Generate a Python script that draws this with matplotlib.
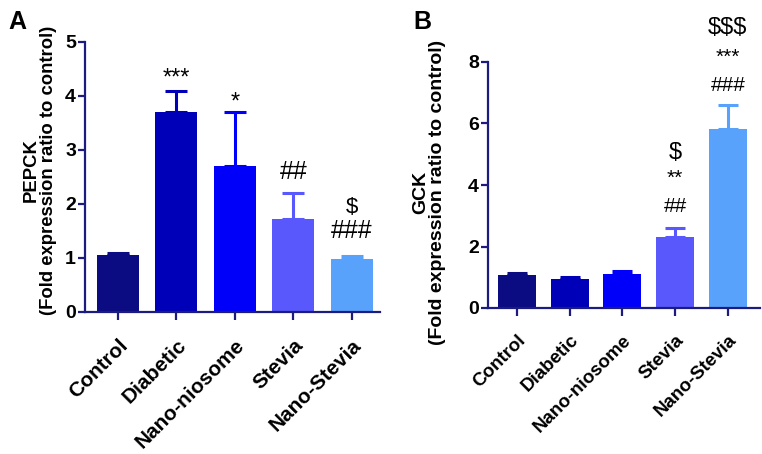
import matplotlib
matplotlib.use("Agg")
import matplotlib.pyplot as plt
import matplotlib.transforms as mtransforms
import numpy as np

plt.rcParams["font.family"] = ["Liberation Sans", "DejaVu Sans"]

# Data
GROUPS = ["Control", "Diabetic", "Nano-niosome", "Stevia", "Nano-Stevia"]

PEPCK_MEAN = [1.05, 3.70, 2.70, 1.72, 0.98]
PEPCK_TOP = [1.10, 4.10, 3.70, 2.20, 1.03]
PEPCK_MARKS = [[], ["***"], ["*"], ["##"], ["###", "$"]]

GCK_MEAN = [1.08, 0.93, 1.12, 2.32, 5.82]
GCK_TOP = [1.13, 1.01, 1.20, 2.60, 6.60]
GCK_MARKS = [[], [], [], ["##", "**", "$"], ["###", "***", "$$$"]]

# Theme
COLORS = ["#0c0c82", "#0000b8", "#0000fa", "#5858fc", "#58a2fc"]
AXIS = "#1c1c80"

W, H = 762, 454
fig = plt.figure(figsize=(W / 100, H / 100), dpi=100)


def box(l, t, r, b):
    return [l / W, 1 - b / H, (r - l) / W, (b - t) / H]


def panel(ax, mean, top, ylim, yticks, xlim, xfs, ylab, lfs, capsize):
    x = np.arange(len(GROUPS))
    err = np.array(top) - np.array(mean)
    ax.bar(x, mean, width=0.72, color=COLORS, zorder=2)
    for i in x:
        ax.errorbar(i, mean[i], yerr=[[0], [err[i]]], color=COLORS[i],
                    elinewidth=2.2, capsize=capsize, capthick=2.2, zorder=1)
    ax.set_xlim(*xlim)
    ax.set_ylim(*ylim)
    ax.set_yticks(yticks)
    ax.set_xticks(x)
    ax.set_xticklabels(GROUPS, rotation=45, ha="right", rotation_mode="anchor",
                       fontsize=xfs, fontweight="bold")
    # nudge the rotated labels a little to the left
    shift = mtransforms.ScaledTranslation(-4 / 100, 0, fig.dpi_scale_trans)
    for lab in ax.get_xticklabels():
        lab.set_transform(lab.get_transform() + shift)
    for lab in ax.get_yticklabels():
        lab.set_fontsize(14)
        lab.set_fontweight("bold")
    for s in ["top", "right"]:
        ax.spines[s].set_visible(False)
    for s in ["left", "bottom"]:
        ax.spines[s].set_color(AXIS)
        ax.spines[s].set_linewidth(1.6)
    ax.tick_params(axis="y", colors=AXIS, width=1.6, length=5, pad=1.5,
                   labelcolor="black")
    ax.tick_params(axis="x", colors=AXIS, width=1.6, length=6, pad=11,
                   labelcolor="black")
    ax.set_ylabel(ylab, fontsize=lfs, fontweight="bold", linespacing=1.0)


# ── Panel A ──
axA = fig.add_axes(box(85, 42, 380, 312))
panel(axA, PEPCK_MEAN, PEPCK_TOP, (0, 5), [0, 1, 2, 3, 4, 5], (-0.56, 4.48),
      15, "PEPCK\n(Fold expression ratio to control)", 13.3, 8)
axA.yaxis.set_label_coords(-0.095, 0.525)

# marks above the bars (A)
a_pos = {"***": 4.33, "*": 3.88, "##": 2.6, "###": 1.5, "$": 1.93}
for i, marks in enumerate(PEPCK_MARKS):
    for m in marks:
        fs = {"*": 17, "#": 18, "$": 16}[m[0]]
        axA.text(i, a_pos[m], m, ha="center", va="center", fontsize=fs,
                 clip_on=False)

# ── Panel B ──
axB = fig.add_axes(box(488, 62, 760, 308))
panel(axB, GCK_MEAN, GCK_TOP, (0, 8), [0, 2, 4, 6, 8], (-0.55, 4.61),
      13.5, "GCK\n(Fold expression ratio to control)", 14, 7.5)
axB.yaxis.set_label_coords(-0.155, 0.47)

b_pos = [{}, {}, {},
         {"##": 3.3, "**": 4.22, "$": 5.05},
         {"###": 7.25, "***": 8.15, "$$$": 9.1}]
for i, marks in enumerate(GCK_MARKS):
    for m in marks:
        fs = {"*": 15, "#": 15, "$": 17}[m[0]]
        axB.text(i, b_pos[i][m], m, ha="center", va="center", fontsize=fs,
                 clip_on=False)

# Panel letters
fig.text(8 / W, 1 - 22 / H, "A", fontsize=18, fontweight="bold", va="center")
fig.text(413 / W, 1 - 22 / H, "B", fontsize=18, fontweight="bold", va="center")

fig.savefig("out.png", dpi=100)
plt.close(fig)
